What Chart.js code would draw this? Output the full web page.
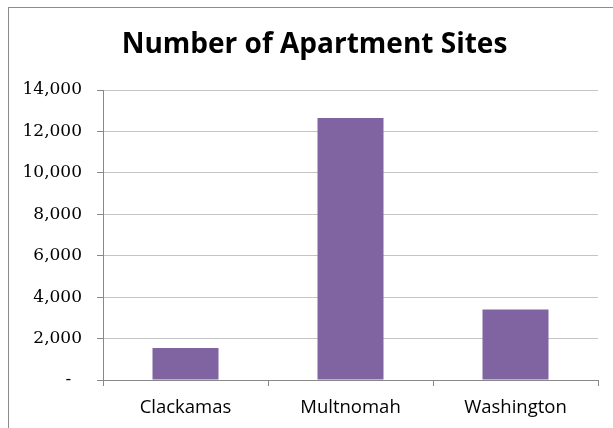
<!DOCTYPE html>
<html>
<head>
<meta charset="utf-8">
<script src="https://cdn.jsdelivr.net/npm/chart.js@4.4.1/dist/chart.umd.min.js"></script>
<style>
  html, body { margin: 0; padding: 0; background: #fff; overflow: hidden; }
  #frame {
    position: absolute; left: 8px; top: 7px; width: 700px; height: 500px;
    border-left: 1px solid #8c8c8c; border-top: 1px solid #8c8c8c;
  }
  #wrap { position: absolute; left: 0; top: 0; width: 613px; height: 428px; }
</style>
</head>
<body>
<div id="frame"></div>
<div id="wrap"><canvas id="myChartCanvas"></canvas></div>
<script>
// Chart data
const counties = ['Clackamas', 'Multnomah', 'Washington'];
const apartmentSites = [1550, 12650, 3400];
const yTicks = [0, 2000, 4000, 6000, 8000, 10000, 12000, 14000];

const chartTitle = 'Number of Apartment Sites';
const barColor = '#8064A2';

// Excel accounting style: zero shows as a dash
function formatTick(value) {
  if (value === 0) return '-  ';
  return value.toLocaleString('en-US');
}

const canvas = document.getElementById('myChartCanvas');
const myChart = new Chart(canvas, {
  type: 'bar',
  data: {
    labels: counties,
    datasets: [{
      label: chartTitle,
      data: apartmentSites,
      backgroundColor: barColor,
      borderWidth: 0,
      categoryPercentage: 0.4,
      barPercentage: 1.0,
    }],
  },
  options: {
    responsive: true,
    maintainAspectRatio: false,
    animation: false,
    layout: {
      // uneven padding moves the title centre a bit right, like the original
      padding: { left: 16, right: 0, top: 0, bottom: 0 },
    },
    plugins: {
      legend: { display: false },
      tooltip: { enabled: false },
      title: {
        display: true,
        text: chartTitle,
        color: '#000',
        font: { family: 'Open Sans', size: 28, weight: 'bold' },
        padding: { top: 28.5, bottom: 27.9 },
      },
    },
    scales: {
      x: {
        afterFit: (scale) => { scale.height = 48; },
        grid: {
          offset: true,
          drawOnChartArea: false,
          drawTicks: true,
          tickLength: 6,
          color: '#888',
        },
        border: { color: '#888', width: 1 },
        ticks: {
          color: '#000',
          padding: 11,
          font: { family: 'Open Sans', size: 18.5 },
        },
      },
      y: {
        min: 0,
        max: 14000,
        afterFit: (scale) => { scale.width = 87; },
        afterBuildTicks: (scale) => {
          scale.ticks = yTicks.map((v) => ({ value: v }));
        },
        grid: {
          color: '#c4c4c4',
          tickLength: 6,
          tickColor: '#888',
        },
        border: { color: '#888', width: 1 },
        ticks: {
          color: '#000',
          padding: 15,
          font: { family: 'DejaVu Serif', size: 17 },
          callback: (value) => formatTick(value),
        },
      },
      // empty right-hand spacer so the plot ends where the original does
      yRight: {
        position: 'right',
        display: true,
        afterFit: (scale) => { scale.width = 15; },
        grid: { display: false },
        border: { display: false },
        ticks: { display: false },
      },
    },
  },
});
</script>
</body>
</html>
